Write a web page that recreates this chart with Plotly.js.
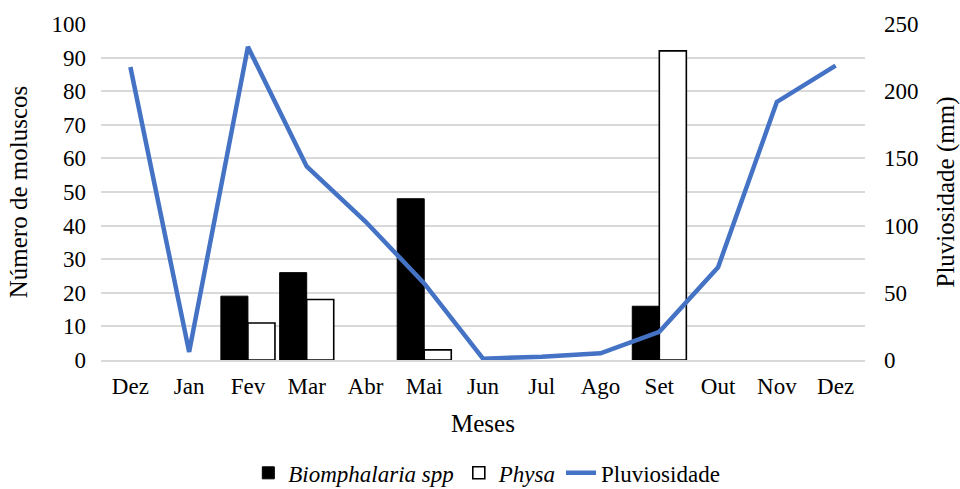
<!DOCTYPE html>
<html>
<head>
<meta charset="utf-8">
<script src="https://cdn.plot.ly/plotly-3.0.1.min.js"></script>
<style>html,body{margin:0;padding:0;background:#fff;}#chart{width:960px;height:489px;}</style>
</head>
<body>
<div id="chart"></div>
<script>
var months = ["Dez","Jan","Fev","Mar","Abr","Mai","Jun","Jul","Ago","Set","Out","Nov","Dez"];
var biomphalaria = [null, null, 19, 26, null, 48, null, null, null, 16, null, null, null];
var physa = [null, null, 11, 18, null, 3, null, null, null, 92, null, null, null];
var pluviosidade = [218, 6, 233, 144, 103, 57, 1, 2.5, 5, 21, 69, 192, 219];
var seriesNames = ["<i>Biomphalaria spp</i>", "<i>Physa</i>", "Pluviosidade"];
var idx = months.map(function(_, i){ return i; });

var font = "Liberation Serif";
function serif(s){ return '<span style="font-family:Liberation Serif">' + s + '</span>'; }

var traces = [
  {type:"bar", name:serif(seriesNames[0]), x:idx, y:biomphalaria,
   marker:{color:"#000000", line:{color:"#000000", width:1}}, yaxis:"y"},
  {type:"bar", name:serif(seriesNames[1]), x:idx, y:physa,
   marker:{color:"#ffffff", line:{color:"#000000", width:1.6}}, yaxis:"y"},
  {type:"scatter", mode:"lines", name:serif(seriesNames[2]), x:idx, y:pluviosidade,
   line:{color:"#4472C4", width:4.5}, yaxis:"y2"}
];

var layout = {
  width:960, height:489,
  margin:{l:101, r:95, t:24, b:129},
  paper_bgcolor:"#ffffff", plot_bgcolor:"#ffffff",
  font:{family:font, size:23, color:"#000000"},
  barmode:"group", bargap:0.08, bargroupgap:0,
  showlegend:true,
  legend:{orientation:"h", x:0.505, xanchor:"center", yref:"container", y:0.033, yanchor:"middle",
          font:{family:font, size:23, color:"#000000"}, traceorder:"normal"},
  xaxis:{range:[-0.5,12.5], tickmode:"array", tickvals:idx, ticktext:months, automargin:false,
         showgrid:false, zeroline:false, showline:true, linecolor:"#d9d9d9", linewidth:1.5,
         ticks:"", ticklabelstandoff:5, tickfont:{family:font, size:23},
         title:{text:"Meses", font:{family:font, size:25}, standoff:16}},
  yaxis:{range:[0,100], dtick:10, showgrid:true, gridcolor:"#d9d9d9", gridwidth:1.5, automargin:false,
         zeroline:false, ticks:"", ticklabelstandoff:14, tickfont:{family:font, size:23},
         title:{text:"Número de moluscos", font:{family:font, size:25}, standoff:16}},
  yaxis2:{range:[0,250], dtick:50, overlaying:"y", side:"right", showgrid:false, automargin:false,
          zeroline:false, ticks:"", ticklabelstandoff:18, tickfont:{family:font, size:23},
          title:{text:"Pluviosidade (mm)", font:{family:font, size:25}, standoff:22}}
};

Plotly.newPlot("chart", traces, layout, {displayModeBar:false});
</script>
</body>
</html>
